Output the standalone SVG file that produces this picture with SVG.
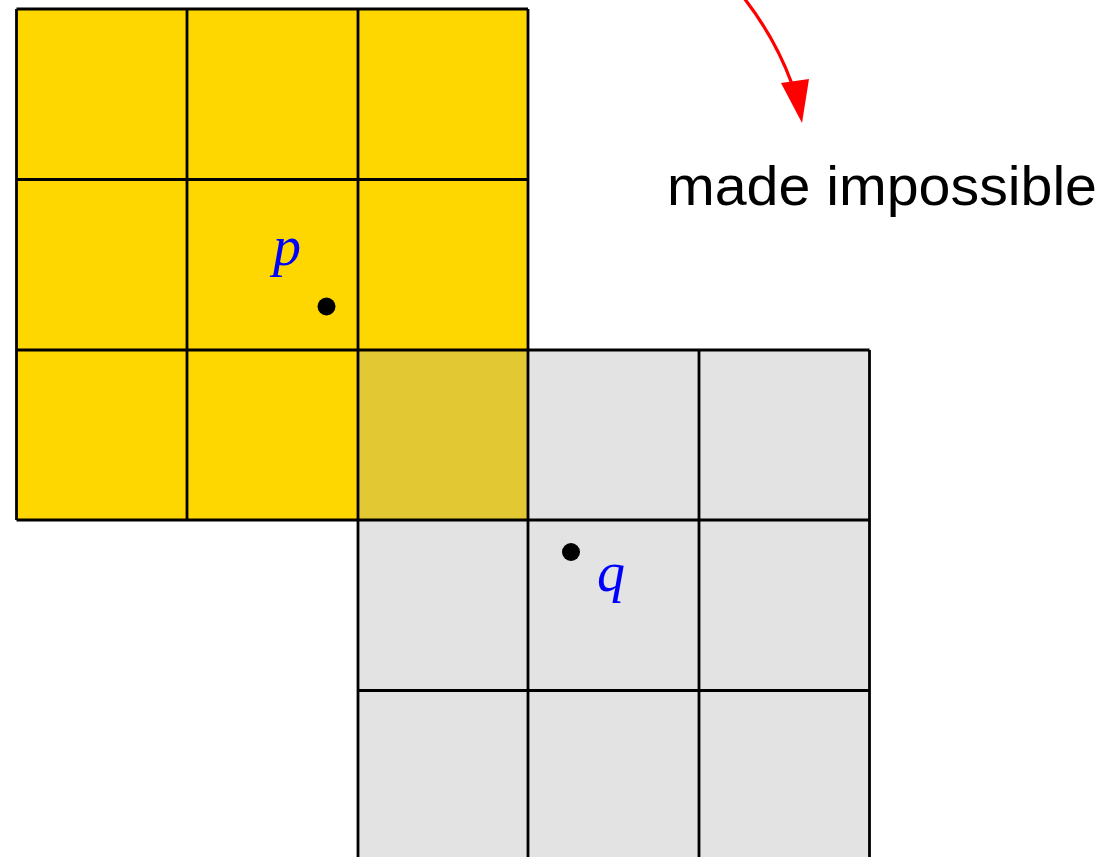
<svg xmlns="http://www.w3.org/2000/svg" width="1107" height="857" viewBox="0 0 1107 857">
<defs>
<style>
.grid{stroke:#000;stroke-width:2.8;fill:none}
.dot{fill:#000}
.var{font-family:"Liberation Serif","DejaVu Serif",serif;font-style:italic;fill:#0000ff;font-size:56px}
.lbl{font-family:"Liberation Sans","DejaVu Sans",sans-serif;font-size:56px;fill:#000}
</style>
</defs>
<rect width="1107" height="857" fill="#fff"/>
<g id="gray-grid">
<rect x="358" y="350" width="511.5" height="520" fill="#e3e3e3"/>
</g>
<g id="yellow-grid">
<rect x="16.5" y="9" width="511.5" height="511" fill="#ffd700"/>
</g>
<g id="overlap">
<rect x="358" y="350" width="170" height="170" fill="#e2c832"/>
</g>
<g id="lines">
<path class="grid" d="M16.5,9 H528 M16.5,179.5 H528 M16.5,350 H869.5 M16.5,520 H869.5 M358,690.5 H869.5 M16.5,9 V520 M187,9 V520 M358,9 V870 M528,9 V870 M699,350 V870 M869.5,350 V870"/>
</g>
<g id="p">
<circle class="dot" cx="326.5" cy="306.5" r="9"/>
<text class="var" x="273" y="265">p</text>
</g>
<g id="q">
<circle class="dot" cx="571" cy="552" r="9"/>
<text class="var" x="597" y="591">q</text>
</g>
<g id="connectors">
<path d="M744,-2 Q775,38 792,84" fill="none" stroke="#ff0000" stroke-width="3.2"/>
<path d="M781,83 L809,79 L802,123 Z" fill="#ff0000"/>
</g>
<g id="label">
<text class="lbl" x="667" y="205" textLength="430" lengthAdjust="spacingAndGlyphs">made impossible</text>
</g>
</svg>
